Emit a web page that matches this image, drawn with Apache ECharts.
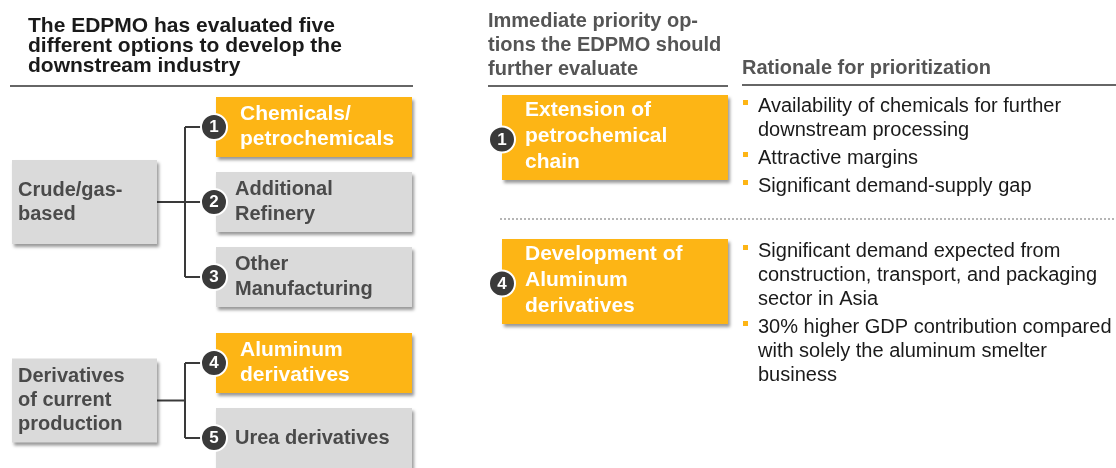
<!DOCTYPE html>
<html>
<head>
<meta charset="utf-8">
<script src="https://cdn.jsdelivr.net/npm/echarts@6/dist/echarts.min.js"></script>
<style>
  html, body { margin: 0; padding: 0; background: #fff; }
  #chart { width: 1116px; height: 468px; }
</style>
</head>
<body>
<div id="chart"></div>
<script>
// --- texts of the diagram ---
const titleLeft = ['The EDPMO has evaluated five', 'different options to develop the', 'downstream industry'];
const titlePriority = ['Immediate priority op-', 'tions the EDPMO should', 'further evaluate'];
const titleRationale = 'Rationale for prioritization';
const groupNames = ['Crude/gas-\nbased', 'Derivatives\nof current\nproduction'];
const optionNames = ['Chemicals/\npetrochemicals', 'Additional\nRefinery', 'Other\nManufacturing', 'Aluminum\nderivatives', 'Urea derivatives'];
const optionGroup = [0, 0, 0, 1, 1];
const priorityOptions = [1, 4];
const priorityNames = ['Extension of\npetrochemical\nchain', 'Development of\nAluminum\nderivatives'];
const rationaleBullets = [
  ['Availability of chemicals for further\ndownstream processing', 'Attractive margins', 'Significant demand-supply gap'],
  ['Significant demand expected from\nconstruction, transport, and packaging\nsector in Asia', '30% higher GDP contribution compared\nwith solely the aluminum smelter\nbusiness']
];

const FONT = '"Liberation Sans", Arial, sans-serif';
const ORANGE = '#FDB515';
const GRAY_BOX = '#DADADA';
const DARK = '#3a3a3a';

const elements = [];

// one line of text, y given as baseline
function textLine(x, baseline, str, size, weight, color, z) {
  elements.push({
    type: 'text', x: x, y: baseline - size * 0.33, z: z || 10,
    style: {text: str, font: weight + ' ' + size + 'px ' + FONT, fill: color, verticalAlign: 'middle', align: 'left'}
  });
}

// centred multi-line block
function textBlock(x, cy, str, size, weight, color, lh) {
  const lines = str.split('\n');
  lines.forEach((l, k) => {
    const mid = cy + (k - (lines.length - 1) / 2) * lh;
    elements.push({
      type: 'text', x: x, y: mid, z: 10,
      style: {text: l, font: weight + ' ' + size + 'px ' + FONT, fill: color, verticalAlign: 'middle', align: 'left'}
    });
  });
}

function box(x, y, w, h, fill) {
  elements.push({
    type: 'rect', z: 2,
    shape: {x: x, y: y, width: w, height: h},
    style: {fill: fill, shadowBlur: 3, shadowOffsetX: 2, shadowOffsetY: 3, shadowColor: 'rgba(0,0,0,0.4)'}
  });
}

function line(x1, y1, x2, y2, color, width, dash) {
  elements.push({
    type: 'line', z: 1,
    shape: {x1: x1, y1: y1, x2: x2, y2: y2},
    style: {stroke: color, lineWidth: width, lineDash: dash || null}
  });
}

function badge(cx, cy, num) {
  elements.push({
    type: 'circle', z: 5,
    shape: {cx: cx, cy: cy, r: 13},
    style: {fill: DARK, stroke: '#fff', lineWidth: 2}
  });
  elements.push({
    type: 'text', x: cx, y: cy + 0.5, z: 6,
    style: {text: String(num), font: 'bold 17px ' + FONT, fill: '#fff', align: 'center', verticalAlign: 'middle'}
  });
}

// --- left header ---
titleLeft.forEach((t, i) => textLine(28, 33 + i * 20, t, 21, 'bold', '#1a1a1a'));
line(10, 86, 413, 86, '#666', 2);

// --- left tree ---
const optX = 216, optW = 196, optH = 60, optStep = 75, groupGap = 11, optTop0 = 97;
const optCenters = optionNames.map((_, i) => optTop0 + i * optStep + optionGroup[i] * groupGap + optH / 2);

optionNames.forEach((name, i) => {
  const top = optCenters[i] - optH / 2;
  const hot = priorityOptions.indexOf(i + 1) >= 0;
  box(optX, top, optW, optH, hot ? ORANGE : GRAY_BOX);
  textBlock(hot ? 240 : 235, optCenters[i], name, hot ? 21 : 20, 'bold', hot ? '#fff' : '#4a4a4a', 25);
  badge(214, optCenters[i], i + 1);
  line(185, optCenters[i], 205, optCenters[i], DARK, 2);
});

groupNames.forEach((name, g) => {
  const ys = optCenters.filter((_, i) => optionGroup[i] === g);
  const cy = (ys[0] + ys[ys.length - 1]) / 2;
  box(12, cy - 42, 145, 84, GRAY_BOX);
  textBlock(18, cy, name, 20, 'bold', '#4a4a4a', 24);
  line(157, cy, 185, cy, DARK, 2);
  line(185, ys[0], 185, ys[ys.length - 1], DARK, 2);
});

// --- right header ---
titlePriority.forEach((t, i) => textLine(488, 28 + i * 24, t, 20, 'bold', '#555'));
textLine(742, 75, titleRationale, 20, 'bold', '#555');
line(488, 86, 728, 86, '#666', 2);
line(742, 85, 1116, 85, '#666', 2);

// --- right priority rows ---
const rowTops = [95, 239], rowH = 85;
line(500, 219, 1116, 219, '#b5b5b5', 2, [2, 2]);
const bulletStart = [113, 258];

priorityNames.forEach((name, r) => {
  const top = rowTops[r];
  box(502, top, 226, rowH, ORANGE);
  textBlock(525, top + rowH / 2 - 1, name, 21, 'bold', '#fff', 26);
  badge(502, top + rowH / 2 + 2, priorityOptions[r]);

  let b = bulletStart[r];
  rationaleBullets[r].forEach(item => {
    elements.push({type: 'rect', z: 3, shape: {x: 743, y: b - 13, width: 5, height: 5}, style: {fill: ORANGE}});
    item.split('\n').forEach(l => {
      textLine(758, b, l, 20, 'normal', '#1a1a1a');
      b += 24;
    });
    b += 4;
  });
});

const chart = echarts.init(document.getElementById('chart'));
chart.setOption({
  backgroundColor: '#fff',
  animation: false,
  graphic: {elements: elements}
});
</script>
</body>
</html>
